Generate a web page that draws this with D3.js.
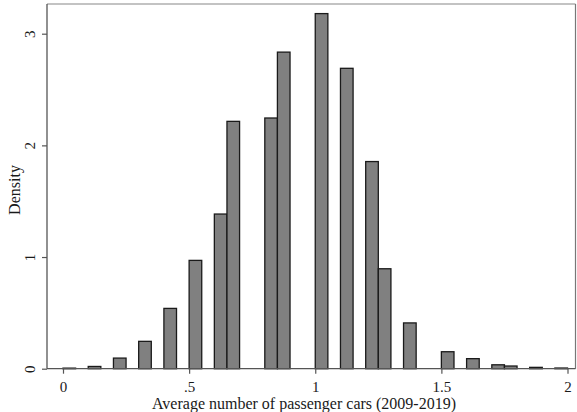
<!DOCTYPE html>
<html>
<head>
<meta charset="utf-8">
<script src="https://cdn.jsdelivr.net/npm/d3@7"></script>
<style>
  body { margin: 0; background: #fff; }
  text { font-family: "Liberation Serif", "Times New Roman", serif; fill: #1a1a1a; }
</style>
</head>
<body>
<svg id="chart" width="577" height="412"></svg>
<script>
// histogram bins (left edge) and density, width .05
let binStart = [0, 0.1, 0.2, 0.3, 0.4, 0.5, 0.6, 0.65, 0.8, 0.85, 1.0, 1.1, 1.2, 1.25, 1.35, 1.5, 1.6, 1.7, 1.75, 1.85, 1.95];
let density  = [0.005, 0.02, 0.095, 0.245, 0.54, 0.97, 1.385, 2.215, 2.245, 2.835, 3.18, 2.69, 1.855, 0.895, 0.41, 0.152, 0.09, 0.035, 0.024, 0.012, 0.006];
let binWidth = 0.05;
let xTicks = [0, 0.5, 1, 1.5, 2];
let xTickLabels = ['0', '.5', '1', '1.5', '2'];
let yTicks = [0, 1, 2, 3];

let svg = d3.select('#chart');

let xScale = d3.scaleLinear()
    .domain([0, 2])
    .range([63, 567.5]);

let yScale = d3.scaleLinear()
    .domain([0, 3])
    .range([368.7, 33.7]);

let plotLeft = 47, plotRight = 575.5, plotTop = 4, plotBottom = 368.7;

// frame (top/right lighter)
svg.append('line')
    .attr('x1', plotLeft).attr('x2', plotRight).attr('y1', plotTop).attr('y2', plotTop)
    .attr('stroke', '#888').attr('stroke-width', 1.2);
svg.append('line')
    .attr('x1', plotRight).attr('x2', plotRight).attr('y1', plotTop).attr('y2', plotBottom)
    .attr('stroke', '#777').attr('stroke-width', 1.2);

// bars
svg.selectAll('.bar')
    .data(binStart)
    .enter().append('rect')
    .attr('class', 'bar')
    .attr('x', d => xScale(d))
    .attr('y', (d, i) => yScale(density[i]))
    .attr('width', d => xScale(d + binWidth) - xScale(d))
    .attr('height', (d, i) => yScale(0) - yScale(density[i]))
    .attr('fill', '#808080')
    .attr('stroke', '#1a1a1a')
    .attr('stroke-width', 1.3);

// x axis
let xAxis = d3.axisBottom(xScale)
    .tickValues(xTicks)
    .tickFormat((d, i) => xTickLabels[i])
    .tickSize(5)
    .tickSizeOuter(0)
    .tickPadding(8);

let gx = svg.append('g')
    .attr('transform', 'translate(0,' + plotBottom + ')')
    .call(xAxis);
gx.select('.domain').attr('d', 'M' + plotLeft + ',0H' + plotRight).attr('stroke', '#555').attr('stroke-width', 1.3);
gx.selectAll('.tick line').attr('stroke', '#555').attr('stroke-width', 1.2);
gx.selectAll('.tick text')
    .attr('font-size', 15)
    .attr('font-family', '"Liberation Serif", serif')
    .attr('fill', '#1a1a1a');

// y axis
let yAxis = d3.axisLeft(yScale)
    .tickValues(yTicks)
    .tickFormat(d3.format('d'))
    .tickSize(5)
    .tickSizeOuter(0);

let gy = svg.append('g')
    .attr('transform', 'translate(' + plotLeft + ',0)')
    .call(yAxis);
gy.select('.domain').attr('d', 'M0,' + plotTop + 'V' + plotBottom).attr('stroke', '#555').attr('stroke-width', 1.3);
gy.selectAll('.tick line').attr('stroke', '#555').attr('stroke-width', 1.2);
gy.selectAll('.tick text')
    .attr('x', null).attr('dy', null)
    .attr('transform', 'translate(-12,0) rotate(-90)')
    .attr('text-anchor', 'middle')
    .attr('font-size', 15)
    .attr('font-family', '"Liberation Serif", serif')
    .attr('fill', '#1a1a1a');

// axis titles
svg.append('text')
    .attr('x', 304)
    .attr('y', 409)
    .attr('text-anchor', 'middle')
    .attr('font-size', 16)
    .text('Average number of passenger cars (2009-2019)');

svg.append('text')
    .attr('transform', 'translate(20,' + 190 + ') rotate(-90)')
    .attr('text-anchor', 'middle')
    .attr('font-size', 16)
    .text('Density');
</script>
</body>
</html>
